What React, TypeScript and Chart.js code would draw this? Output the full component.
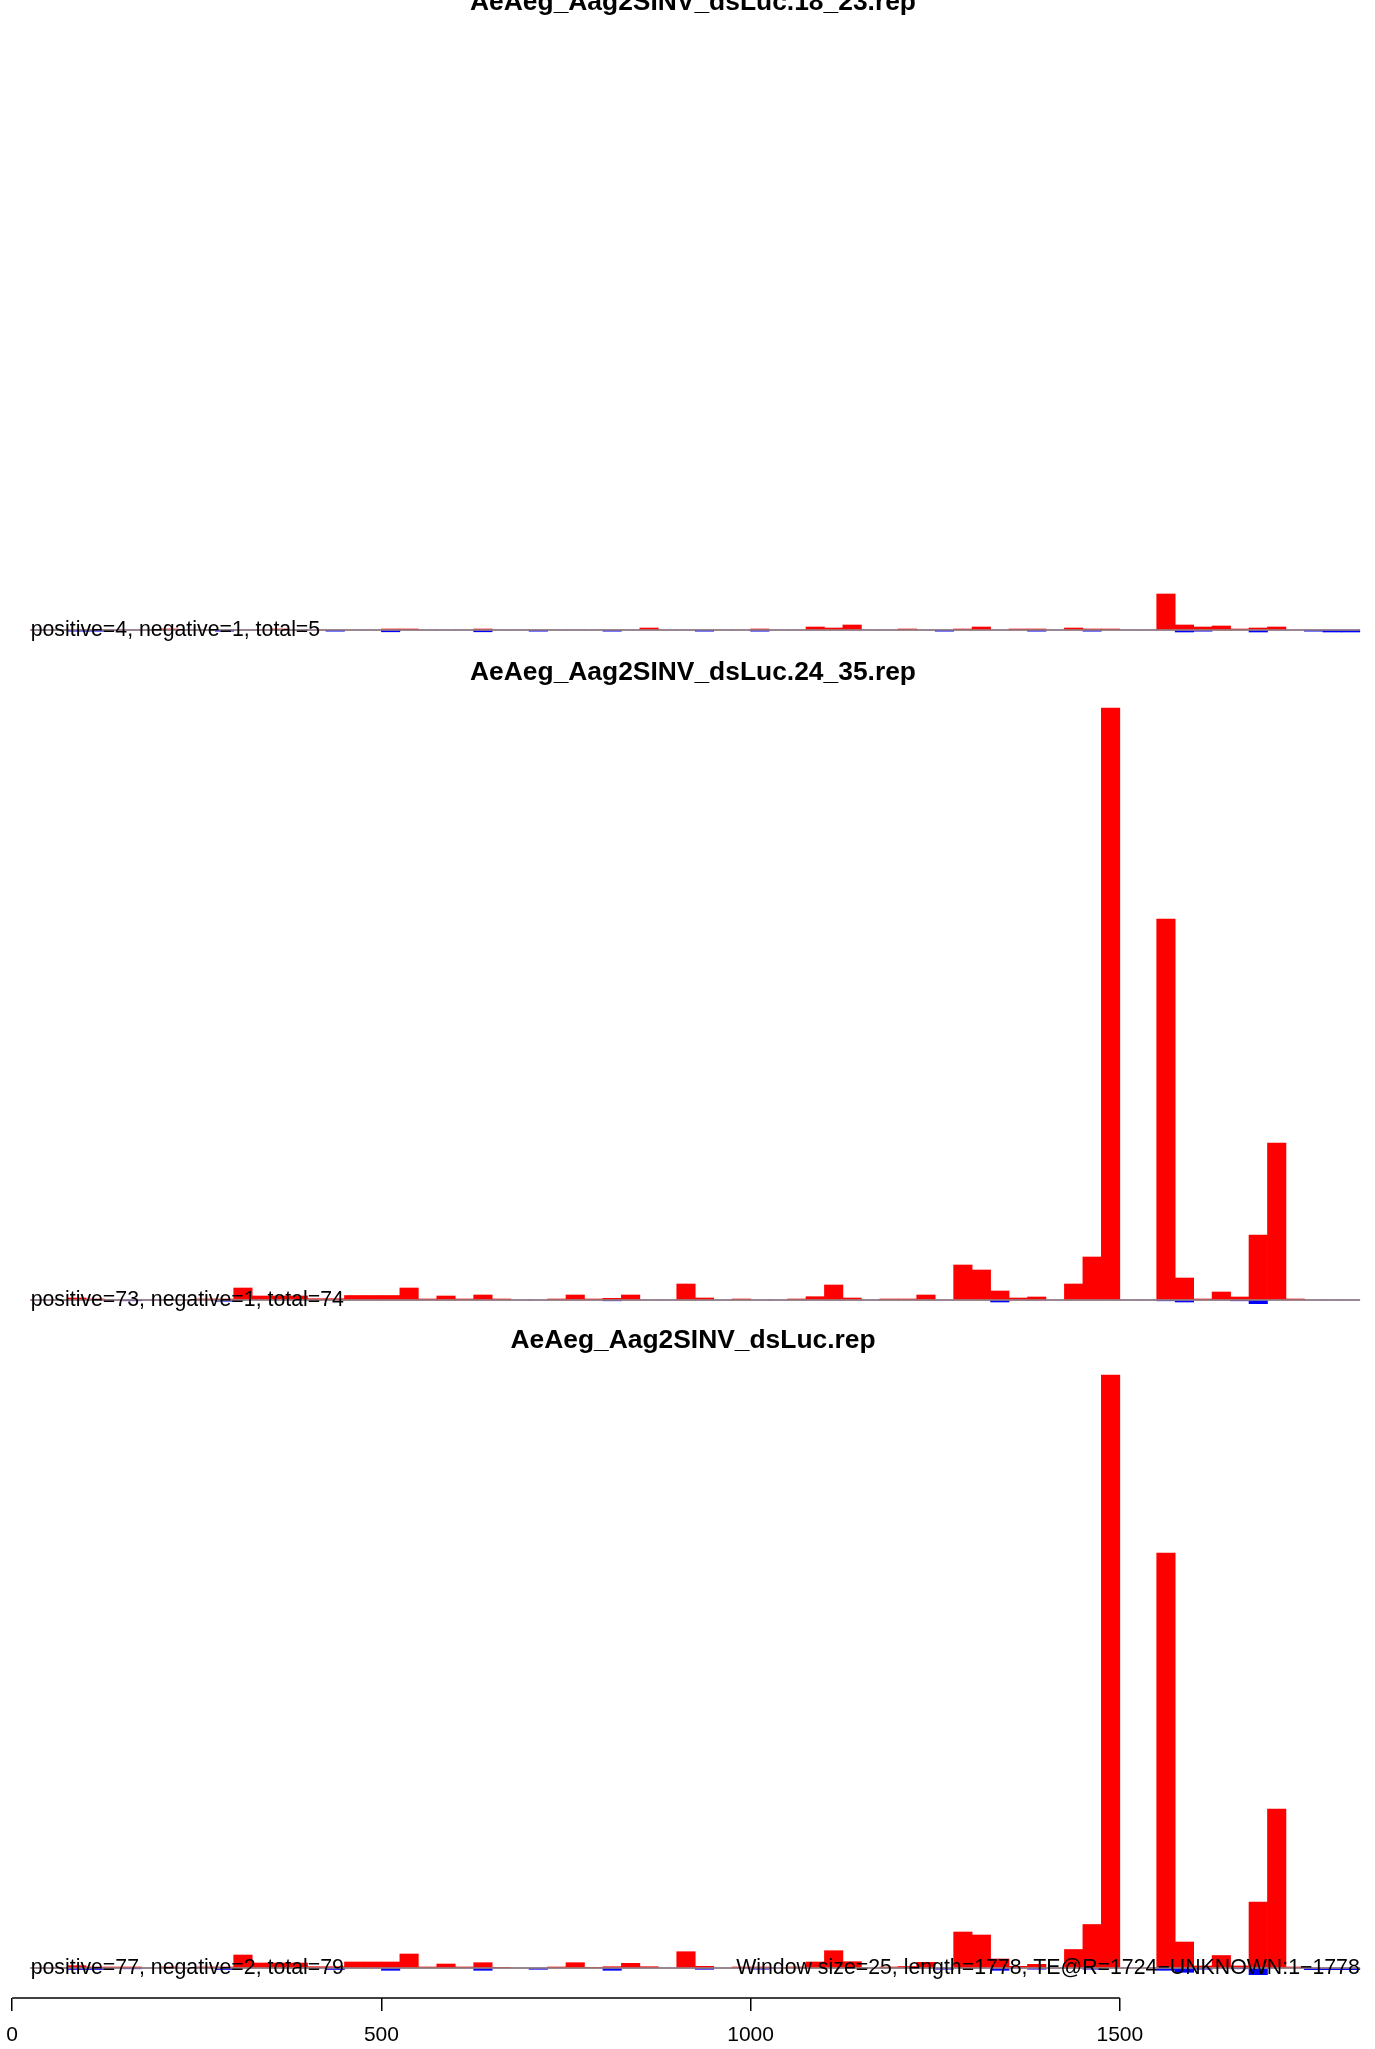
import React, { useEffect, useRef } from "react";
import { Chart, registerables } from "chart.js";

Chart.register(...registerables);

// ---------- data ----------
// start position of each 25-nt window
const windowStart = [
  25, 50, 75, 100, 125, 150, 175, 200, 225, 250, 275, 300,
  325, 350, 375, 400, 425, 450, 475, 500, 525, 550, 575, 600,
  625, 650, 675, 700, 725, 750, 775, 800, 825, 850, 875, 900,
  925, 950, 975, 1000, 1025, 1050, 1075, 1100, 1125, 1150, 1175, 1200,
  1225, 1250, 1275, 1300, 1325, 1350, 1375, 1400, 1425, 1450, 1475, 1500,
  1525, 1550, 1575, 1600, 1625, 1650, 1675, 1700, 1725, 1750, 1775, 1800,
];
const windowSize = 25;

// 18-23 nt reads
const pos18_23 = [
  0, 0, 0, 0, 0, 0, 0, 1, 0, 0, 0, 0,
  0, 1, 0, 0, 0, 0, 0, 1, 1, 0, 0, 0,
  1, 0, 0, 0, 0, 0, 0, 0, 0, 2, 0, 0,
  0, 0, 0, 1, 0, 0, 3, 2, 5, 0, 0, 1,
  0, 0, 1, 3, 0, 1, 1, 0, 2, 1, 1, 0,
  0, 36, 5, 3, 4, 1, 2, 3, 0, 0, 0, 0,
];
const neg18_23 = [
  0, 0, -1.2, -1.2, 0, 0, 0, 0, 0, 0, -1.2, 0,
  0, 0, 0, 0, -1.2, 0, 0, -1.8, 0, 0, 0, 0,
  -1.8, 0, 0, -1.2, 0, 0, 0, -1.2, 0, 0, 0, 0,
  -1.2, 0, 0, -1.2, 0, 0, 0, 0, 0, 0, 0, 0,
  0, -1.2, 0, 0, 0, 0, -1.2, 0, 0, -1.2, 0, 0,
  0, 0, -2, -1.2, 0, 0, -2, 0, 0, -1.2, -2, -2,
];

// 24-35 nt reads
const pos24_35 = [
  0, 0, 2, 1, 0, 0, 0, 0, 0, 1, 1, 12,
  4, 4, 4, 1.3, 1.3, 4.5, 4.5, 4.5, 12, 1, 4, 1,
  5, 1, 0, 0, 1, 5, 1, 1.7, 5, 0, 0, 16,
  2, 0, 1, 0, 0, 1, 3.3, 15, 2, 0, 1, 1,
  5, 0, 35, 30, 9, 2, 3, 0, 16, 43, 592, 0,
  0, 381, 22, 1, 8, 3, 65, 157, 1, 0, 0, 0,
];
const neg24_35 = [
  0, 0, 0, 0, 0, -0.8, 0, 0, 0, 0, -1.2, 0,
  0, 0, 0, 0, 0, 0, 0, 0, 0, 0, 0, 0,
  0, 0, 0, 0, 0, 0, 0, -0.8, 0, 0, 0, 0,
  0, 0, 0, 0, 0, 0, 0, 0, 0, 0, 0, 0,
  0, 0, 0, 0, -2, 0, 0, 0, 0, 0, 0, 0,
  0, -0.8, -2, 0, 0, -0.8, -3.7, 0, 0, 0, 0, 0,
];

// all reads
const posAll = [
  0, 0, 2.3, 1, 1, 1, 0, 1, 0, 1, 1, 13,
  5, 5, 5, 1.3, 1.3, 6, 6, 6, 14, 1, 4, 1,
  5.3, 0.7, 0, 0, 1, 5.3, 0.7, 1.3, 4.7, 1.3, 0, 16.3,
  1.7, 0, 1, 1, 0, 1, 6, 17.3, 6.3, 0, 1, 1.5,
  5.7, 0, 36, 33, 9, 1.7, 3.7, 0, 18.5, 43.5, 593, 0,
  0, 415, 26, 2, 12.5, 2, 66, 159, 1, 0, 0, 0,
];
const negAll = [
  0, 0, -1.5, -1.5, 0, -0.8, 0, 0, 0, 0, -1.5, 0,
  0, 0, 0, 0, -1.5, 0, 0, -2.3, 0, 0, 0, 0,
  -2.3, 0, 0, -1.3, 0, 0, 0, -2.3, 0, 0, 0, 0,
  -1.3, 0, 0, -1.2, 0, 0, 0, 0, 0, 0, 0, 0,
  0, -1.2, 0, 0, -2.3, 0, -1.2, 0, 0, -1.2, 0, 0,
  0, -2.3, -4.3, -1.2, 0, -0.8, -6.7, 0, 0, -1.7, -1.7, -1.7,
];

const tickValues = [0, 500, 1000, 1500];

const panelTitles = [
  "AeAeg_Aag2SINV_dsLuc.18_23.rep",
  "AeAeg_Aag2SINV_dsLuc.24_35.rep",
  "AeAeg_Aag2SINV_dsLuc.rep",
];
const countLabels = [
  "positive=4, negative=1, total=5",
  "positive=73, negative=1, total=74",
  "positive=77, negative=2, total=79",
];
const footnote = "Window size=25, length=1778, TE@R=1724\u2212UNKNOWN:1\u22121778";

// ---------- layout / style ----------
const W = 1375;
const H = 2049;
const FONT = "'Liberation Sans', Arial, Helvetica, sans-serif";
const RED = "#FF0000";
const BLUE = "#0000FF";
const GRAY = "#8c8c8c";
const BASELINES = [630, 1300, 1968];
const Y_MAX = 600;
const TOP_PAD = 40;
const AXIS_H = 61;
const X_MIN = -16.52;
const X_MAX = 1845.6;
const TITLE_X = 693;
const TITLE_SIZE = 26.4;
const TEXT_SIZE = 21.3;

type PanelSpec = {
  title: string;
  label: string;
  pos: number[];
  neg: number[];
  yMin: number;
  axis: boolean;
  note?: string;
};

const panels: PanelSpec[] = [
  { title: panelTitles[0], label: countLabels[0], pos: pos18_23, neg: neg18_23, yMin: -15, axis: false },
  { title: panelTitles[1], label: countLabels[1], pos: pos24_35, neg: neg24_35, yMin: -15, axis: false },
  { title: panelTitles[2], label: countLabels[2], pos: posAll, neg: negAll, yMin: -30, axis: true, note: footnote },
];

function canvasHeight(p: PanelSpec) {
  return TOP_PAD + (Y_MAX - p.yMin) + (p.axis ? AXIS_H : 0);
}

function makeChart(canvas: HTMLCanvasElement, p: PanelSpec) {
  const lastEnd = windowStart[windowStart.length - 1] + windowSize;
  const decor = {
    id: "decor",
    afterDatasetsDraw(chart: any) {
      const { ctx, scales } = chart;
      const x = scales.x;
      const y = scales.y;
      const y0 = y.getPixelForValue(0);
      ctx.save();
      // zero line
      ctx.strokeStyle = GRAY;
      ctx.lineWidth = 1.5;
      ctx.beginPath();
      ctx.moveTo(x.getPixelForValue(windowStart[0]), y0);
      ctx.lineTo(x.getPixelForValue(lastEnd), y0);
      ctx.stroke();
      // title
      ctx.fillStyle = "#000";
      ctx.font = `bold ${TITLE_SIZE}px ${FONT}`;
      ctx.textAlign = "center";
      ctx.textBaseline = "alphabetic";
      ctx.fillText(p.title, TITLE_X, y0 - 620);
      // counts
      ctx.font = `${TEXT_SIZE}px ${FONT}`;
      ctx.textAlign = "left";
      ctx.fillText(p.label, x.getPixelForValue(windowStart[0]), y0 + 5.5);
      if (p.note) {
        ctx.textAlign = "right";
        ctx.fillText(p.note, x.getPixelForValue(lastEnd), y0 + 5.5);
      }
      if (p.axis) {
        const yb = chart.chartArea.bottom;
        ctx.strokeStyle = "#000";
        ctx.lineWidth = 1.5;
        ctx.beginPath();
        ctx.moveTo(x.getPixelForValue(tickValues[0]), yb);
        ctx.lineTo(x.getPixelForValue(tickValues[tickValues.length - 1]), yb);
        ctx.stroke();
      }
      ctx.restore();
    },
  };

  return new Chart(canvas, {
    type: "bar",
    data: {
      datasets: [
        {
          label: "positive",
          data: windowStart.map((s, i) => ({ x: s + windowSize / 2, y: p.pos[i] })),
          backgroundColor: RED,
          borderWidth: 0,
          barPercentage: 1,
          categoryPercentage: 1,
          grouped: false,
        } as any,
        {
          label: "negative",
          data: windowStart.map((s, i) => ({ x: s + windowSize / 2, y: p.neg[i] })),
          backgroundColor: BLUE,
          borderWidth: 0,
          barPercentage: 1,
          categoryPercentage: 1,
          grouped: false,
        } as any,
      ],
    },
    options: {
      animation: false,
      responsive: false,
      maintainAspectRatio: false,
      devicePixelRatio: 1,
      layout: { padding: { top: TOP_PAD, bottom: 0, left: 0, right: 0 } },
      plugins: { legend: { display: false }, tooltip: { enabled: false }, title: { display: false } },
      scales: {
        x: {
          type: "linear",
          min: X_MIN,
          max: X_MAX,
          offset: false,
          display: p.axis,
          border: { display: false },
          grid: {
            display: true,
            offset: false,
            drawOnChartArea: false,
            drawTicks: true,
            tickLength: 13,
            color: "#000",
            lineWidth: 1.5,
          },
          ticks: {
            color: "#000",
            padding: 3,
            maxRotation: 0,
            minRotation: 0,
            autoSkip: false,
            font: { family: FONT, size: 21, lineHeight: 2 },
            callback: (v: any) => String(v),
          },
          afterBuildTicks: (s: any) => {
            s.ticks = tickValues.map((v) => ({ value: v }));
          },
          afterFit: (s: any) => {
            if (p.axis) s.height = AXIS_H;
          },
        } as any,
        y: {
          type: "linear",
          min: p.yMin,
          max: Y_MAX,
          display: false,
        },
      },
    },
    plugins: [decor],
  } as any);
}

function Panel({ spec }: { spec: PanelSpec }) {
  const ref = useRef<HTMLCanvasElement | null>(null);
  const idx = panels.indexOf(spec);
  const top = BASELINES[idx] - Y_MAX - TOP_PAD;
  const h = canvasHeight(spec);
  useEffect(() => {
    if (!ref.current) return;
    const chart = makeChart(ref.current, spec);
    return () => chart.destroy();
  }, [spec]);
  return (
    <canvas
      ref={ref}
      width={W}
      height={h}
      style={{ position: "absolute", left: 0, top, width: W, height: h, display: "block" }}
    />
  );
}

export default function App() {
  return (
    <div
      style={{
        position: "absolute",
        left: 0,
        top: 0,
        width: W,
        height: H,
        overflow: "hidden",
        background: "#fff",
      }}
    >
      {panels.map((p, i) => (
        <Panel key={i} spec={p} />
      ))}
    </div>
  );
}
